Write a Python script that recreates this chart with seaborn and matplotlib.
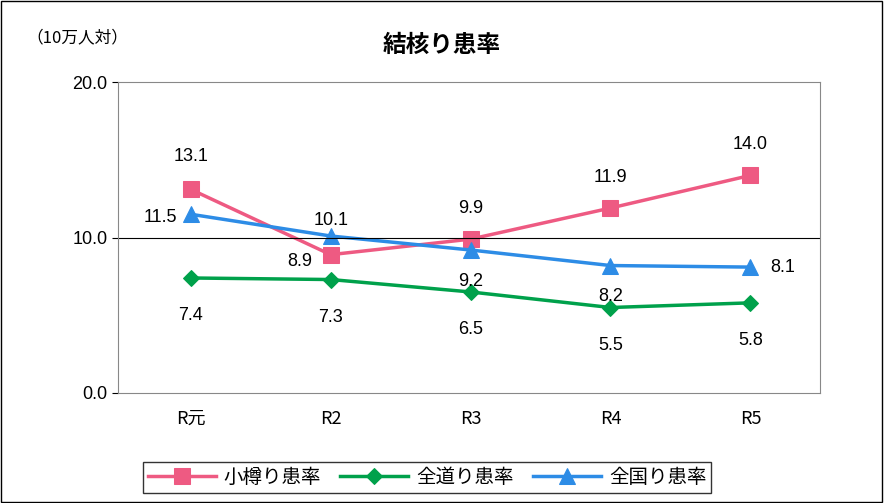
import matplotlib
matplotlib.use("Agg")
import matplotlib.pyplot as plt
import seaborn as sns
import pandas as pd
from matplotlib.patches import Rectangle

categories = ["R元", "R2", "R3", "R4", "R5"]
otaru = [13.1, 8.9, 9.9, 11.9, 14.0]
hokkaido = [7.4, 7.3, 6.5, 5.5, 5.8]
zenkoku = [11.5, 10.1, 9.2, 8.2, 8.1]

plt.rcParams["font.family"] = "Noto Sans CJK JP"
fig = plt.figure(figsize=(8.84, 5.03), dpi=100)
ax = fig.add_axes([0.1335, 0.2187, 0.7945, 0.618])
fig.patches.append(Rectangle((0.001, 0.001), 0.997, 0.997, transform=fig.transFigure,
                             fill=False, edgecolor="black", linewidth=1))

series = [
    ("小樽り患率", otaru, "#EE5A82", "s", 11),
    ("全道り患率", hokkaido, "#00A14B", "D", 8),
    ("全国り患率", zenkoku, "#2D8CE6", "^", 11),
]
x = list(range(len(categories)))
for name, vals, col, mk, ms in series:
    df = pd.DataFrame({"x": x, "y": vals})
    sns.lineplot(data=df, x="x", y="y", ax=ax, color=col, marker=mk, markersize=ms,
                 markeredgecolor=col, linewidth=2.5, label=name)

fs = 13
offs_o = [(0, 24), (-22, -5), (0, 22), (0, 22), (0, 22)]
offs_h = [(0, -27), (0, -27), (0, -27), (0, -27), (0, -27)]
offs_z = [(-22, -2), (0, 11), (0, -23), (0, -22), (23, 0)]
for vals, offs in [(otaru, offs_o), (hokkaido, offs_h), (zenkoku, offs_z)]:
    for i, v in enumerate(vals):
        ax.annotate(f"{v:.1f}", (i, v), xytext=offs[i], textcoords="offset points",
                    ha="center", va="center", fontsize=fs, fontfamily="Liberation Sans")

ax.set_xlim(-0.52, 4.5)
ax.set_ylim(0, 20)
ax.set_yticks([0, 10, 20])
ax.set_yticklabels(["0.0", "10.0", "20.0"], fontfamily="Liberation Sans", fontsize=13)
ax.set_xticks(x)
ax.set_xticklabels(categories, fontsize=13)
ax.tick_params(axis="x", length=0, pad=12)
ax.tick_params(axis="y", length=4, direction="out")
ax.axhline(10, color="black", linewidth=0.8)
for s in ax.spines.values():
    s.set_color("#888888")
ax.set_xlabel("")
ax.set_ylabel("")
fig.text(0.5, 0.91, "結核り患率", ha="center", va="center", fontsize=17, fontweight="bold")
fig.text(0.03, 0.925, "（10万人対）", ha="left", va="center", fontsize=12)

ax.legend(loc="upper center", bbox_to_anchor=(0.44, -0.19), ncol=3, frameon=True,
          fancybox=False, edgecolor="black", fontsize=14, handlelength=3.5,
          columnspacing=1.0, handletextpad=0.4, borderpad=0.25)
fig.savefig("out.png", dpi=100)
